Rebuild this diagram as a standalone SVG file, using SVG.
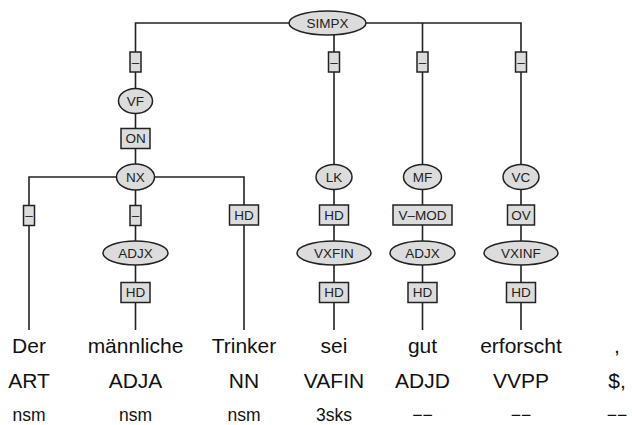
<svg xmlns="http://www.w3.org/2000/svg" width="632" height="425" viewBox="0 0 632 425">
<style>
.ln{stroke:#222;stroke-width:1.6;fill:none}
.nd{fill:#dcdcdc;stroke:#222;stroke-width:1.5}
.lb{fill:#dcdcdc;stroke:#222;stroke-width:1.5}
.t{font-family:"Liberation Sans",Arial,sans-serif;font-size:13.5px;fill:#222;text-anchor:middle;dominant-baseline:central}
.w{font-family:"Liberation Sans",Arial,sans-serif;font-size:21px;fill:#111;text-anchor:middle}
.m{font-family:"Liberation Sans",Arial,sans-serif;font-size:17.5px;fill:#111;text-anchor:middle}
</style>
<rect width="632" height="425" fill="#fff"/>
<g id="connectors">
<path class="ln" d="M135.5 101 V23 H521 V330 M135.5 101 V330 M334 23 V330 M422.5 23 V330 M29 330 V177 H244 V330"/>
</g>
<g id="edge-labels">
<g id="e1"><rect class="lb" x="130" y="52" width="11" height="20"/><text class="t" x="135.5" y="62">–</text></g>
<g id="e2"><rect class="lb" x="328.5" y="52" width="11" height="20"/><text class="t" x="334" y="62">–</text></g>
<g id="e3"><rect class="lb" x="417" y="52" width="11" height="20"/><text class="t" x="422.5" y="62">–</text></g>
<g id="e4"><rect class="lb" x="515.5" y="52" width="11" height="20"/><text class="t" x="521" y="62">–</text></g>
<g id="e5"><rect class="lb" x="121" y="128.5" width="29" height="20"/><text class="t" x="135.5" y="138.5">ON</text></g>
<g id="e6"><rect class="lb" x="23.5" y="205.5" width="11" height="20"/><text class="t" x="29" y="215.5">–</text></g>
<g id="e7"><rect class="lb" x="130" y="205.5" width="11" height="20"/><text class="t" x="135.5" y="215.5">–</text></g>
<g id="e8"><rect class="lb" x="229.5" y="205" width="29" height="20"/><text class="t" x="244" y="215">HD</text></g>
<g id="e9"><rect class="lb" x="319.5" y="205" width="29" height="20"/><text class="t" x="334" y="215">HD</text></g>
<g id="e10"><rect class="lb" x="393" y="205" width="59" height="20"/><text class="t" x="422.5" y="215">V–MOD</text></g>
<g id="e11"><rect class="lb" x="507.5" y="205" width="27" height="20"/><text class="t" x="521" y="215">OV</text></g>
<g id="e12"><rect class="lb" x="121" y="282.5" width="29" height="20"/><text class="t" x="135.5" y="292.5">HD</text></g>
<g id="e13"><rect class="lb" x="319.5" y="282.5" width="29" height="20"/><text class="t" x="334" y="292.5">HD</text></g>
<g id="e14"><rect class="lb" x="408" y="282.5" width="29" height="20"/><text class="t" x="422.5" y="292.5">HD</text></g>
<g id="e15"><rect class="lb" x="506.5" y="282.5" width="29" height="20"/><text class="t" x="521" y="292.5">HD</text></g>
</g>
<g id="SIMPX"><ellipse class="nd" cx="327.5" cy="23" rx="38.5" ry="12"/><text class="t" x="327.5" y="23">SIMPX</text></g>
<g id="VF"><ellipse class="nd" cx="135.5" cy="101" rx="17" ry="12.5"/><text class="t" x="135.5" y="101">VF</text></g>
<g id="NX"><ellipse class="nd" cx="135.5" cy="177" rx="19" ry="13"/><text class="t" x="135.5" y="177">NX</text></g>
<g id="LK"><ellipse class="nd" cx="334" cy="177" rx="18" ry="12.5"/><text class="t" x="334" y="177">LK</text></g>
<g id="MF"><ellipse class="nd" cx="422.5" cy="177" rx="19" ry="12.5"/><text class="t" x="422.5" y="177">MF</text></g>
<g id="VC"><ellipse class="nd" cx="521" cy="177" rx="18" ry="12.5"/><text class="t" x="521" y="177">VC</text></g>
<g id="ADJX1"><ellipse class="nd" cx="135.5" cy="253" rx="32.5" ry="12"/><text class="t" x="135.5" y="253">ADJX</text></g>
<g id="VXFIN"><ellipse class="nd" cx="334" cy="253" rx="37" ry="12"/><text class="t" x="334" y="253">VXFIN</text></g>
<g id="ADJX2"><ellipse class="nd" cx="422.5" cy="253" rx="32.5" ry="12"/><text class="t" x="422.5" y="253">ADJX</text></g>
<g id="VXINF"><ellipse class="nd" cx="521" cy="253" rx="37" ry="12"/><text class="t" x="521" y="253">VXINF</text></g>
<g id="tokens">
<g id="tok1"><text class="w" x="29" y="352.5">Der</text><text class="w" x="29" y="388">ART</text><text class="m" x="29" y="421">nsm</text></g>
<g id="tok2"><text class="w" x="135.5" y="352.5">männliche</text><text class="w" x="135.5" y="388">ADJA</text><text class="m" x="135.5" y="421">nsm</text></g>
<g id="tok3"><text class="w" x="244" y="352.5">Trinker</text><text class="w" x="244" y="388">NN</text><text class="m" x="244" y="421">nsm</text></g>
<g id="tok4"><text class="w" x="334" y="352.5">sei</text><text class="w" x="334" y="388">VAFIN</text><text class="m" x="334" y="421">3sks</text></g>
<g id="tok5"><text class="w" x="422.5" y="352.5">gut</text><text class="w" x="422.5" y="388">ADJD</text><text class="m" x="422.5" y="421">−−</text></g>
<g id="tok6"><text class="w" x="521" y="352.5">erforscht</text><text class="w" x="521" y="388">VVPP</text><text class="m" x="521" y="421">−−</text></g>
<g id="tok7"><text class="w" x="617" y="352.5">,</text><text class="w" x="617" y="388">$,</text><text class="m" x="617" y="421">−−</text></g>
</g>
</svg>
